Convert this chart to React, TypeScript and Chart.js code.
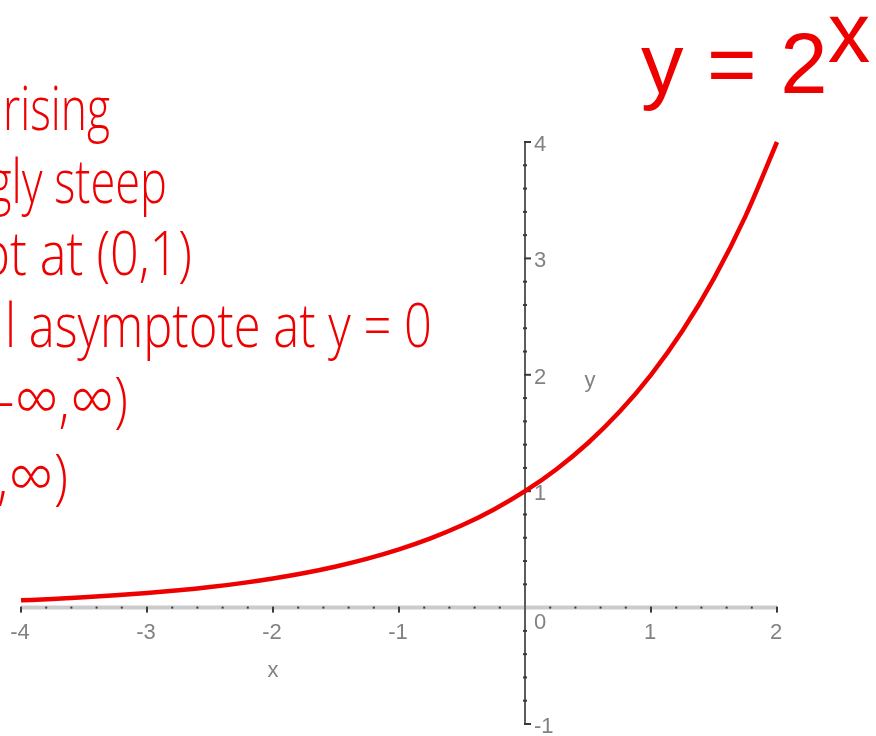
import React, { useEffect, useRef } from 'react';
import { Chart, registerables } from 'chart.js';

Chart.register(...registerables);

// Sample points of the curve y = 2^x
const X_VALUES = [
  -4, -3.75, -3.5, -3.25, -3, -2.75, -2.5, -2.25, -2, -1.75, -1.5, -1.25, -1,
  -0.75, -0.5, -0.25, 0, 0.25, 0.5, 0.75, 1, 1.25, 1.5, 1.75, 2,
];
const Y_VALUES = [
  0.0625, 0.0743, 0.0884, 0.1051, 0.125, 0.1487, 0.1768, 0.2102, 0.25, 0.2973,
  0.3536, 0.4204, 0.5, 0.5946, 0.7071, 0.8409, 1, 1.1892, 1.4142, 1.6818, 2,
  2.3784, 2.8284, 3.3636, 4,
];

// Axis ticks
const X_TICKS = [-4, -3, -2, -1, 0, 1, 2];
const X_TICK_LABELS = ['-4', '-3', '-2', '-1', '0', '1', '2'];
const Y_TICKS = [-1, 1, 2, 3, 4];
const Y_TICK_LABELS = ['-1', '1', '2', '3', '4'];
const MINOR_PER_UNIT = 5;

// Annotation text
const TITLE_BASE = 'y = 2';
const TITLE_EXP = 'x';
const NOTES = ['rising', 'gly steep', 'pt at (0,1)', 'l asymptote at y = 0', '-∞,∞)', ',∞)'];
const NOTE_LAYOUT = [
  { x: 3, y: 130, w: 107 },
  { x: -12, y: 203, w: 179 },
  { x: -20, y: 275, w: 212 },
  { x: 5, y: 347, w: 427 },
  { x: -2, y: 421, w: 130 },
  { x: -3, y: 498, w: 71 },
];

const RED = '#ee0000';
const AXIS_GREY = '#828282';

const crossAxes = {
  id: 'crossAxes',
  beforeDatasetsDraw(chart: any) {
    const { ctx } = chart;
    const xs = chart.scales.x;
    const ys = chart.scales.y;
    const x0 = xs.getPixelForValue(0);
    const y0 = ys.getPixelForValue(0);
    const xMin = xs.getPixelForValue(xs.min);
    const xMax = xs.getPixelForValue(xs.max);
    const yMin = ys.getPixelForValue(ys.min);
    const yMax = ys.getPixelForValue(ys.max);
    ctx.save();

    // horizontal axis: light band with dark tick dots
    ctx.strokeStyle = '#cbcbcb';
    ctx.lineWidth = 4;
    ctx.beginPath();
    ctx.moveTo(xMin, y0);
    ctx.lineTo(xMax, y0);
    ctx.stroke();

    ctx.fillStyle = '#3a3a3a';
    for (let i = xs.min * MINOR_PER_UNIT; i <= xs.max * MINOR_PER_UNIT; i++) {
      const px = xs.getPixelForValue(i / MINOR_PER_UNIT);
      if (i % MINOR_PER_UNIT === 0) {
        ctx.fillRect(px - 1, y0 - 1, 2, 6);
      } else {
        ctx.fillRect(px - 1, y0 - 1, 2, 2);
      }
    }

    // vertical axis
    ctx.strokeStyle = '#5c5c5c';
    ctx.lineWidth = 2;
    ctx.beginPath();
    ctx.moveTo(x0, yMax);
    ctx.lineTo(x0, yMin);
    ctx.stroke();

    ctx.fillStyle = '#3a3a3a';
    for (let i = ys.min * MINOR_PER_UNIT; i <= ys.max * MINOR_PER_UNIT; i++) {
      const py = ys.getPixelForValue(i / MINOR_PER_UNIT);
      if (i % MINOR_PER_UNIT === 0) {
        if (i !== 0) ctx.fillRect(x0 - 1, py - 1, 7, 2);
      } else {
        ctx.fillRect(x0 - 2, py - 1, 4, 2);
      }
    }

    // tick labels
    ctx.fillStyle = AXIS_GREY;
    ctx.font = '22px "Liberation Sans", Arial, sans-serif';
    ctx.textAlign = 'center';
    ctx.textBaseline = 'top';
    X_TICKS.forEach((v, i) => {
      const px = xs.getPixelForValue(v);
      if (v === 0) {
        ctx.fillText(X_TICK_LABELS[i], px + 15, y0 + 4);
      } else {
        ctx.fillText(X_TICK_LABELS[i], px - 1, y0 + 14);
      }
    });
    ctx.textAlign = 'left';
    ctx.textBaseline = 'middle';
    Y_TICKS.forEach((v, i) => {
      const py = ys.getPixelForValue(v);
      ctx.fillText(Y_TICK_LABELS[i], x0 + 9, py + 3);
    });

    // axis titles
    ctx.font = '22px "Liberation Sans", Arial, sans-serif';
    ctx.textAlign = 'center';
    ctx.fillText('x', xs.getPixelForValue(-2), y0 + 63);
    ctx.fillText('y', x0 + 65, ys.getPixelForValue(2) + 6);

    ctx.restore();
  },
};

// Infinity signs get a larger, light glyph than the surrounding lettering
function noteSpans(text: string) {
  return text.split(/(∞)/).map((part, i) =>
    part === '∞' ? (
      <tspan
        key={i}
        style={{ fontFamily: 'Lato, "DejaVu Sans", sans-serif', fontSize: 72, fontWeight: 300 }}
      >
        {part}
      </tspan>
    ) : (
      <tspan key={i}>{part}</tspan>
    )
  );
}

export default function App() {
  const canvasRef = useRef<HTMLCanvasElement>(null);

  useEffect(() => {
    const canvas = canvasRef.current;
    if (!canvas) return;
    const chart = new Chart(canvas, {
      type: 'line',
      data: {
        datasets: [
          {
            data: X_VALUES.map((x, i) => ({ x, y: Y_VALUES[i] })),
            borderColor: RED,
            borderWidth: 4.5,
            pointRadius: 0,
            fill: false,
            cubicInterpolationMode: 'monotone',
            clip: 6,
          },
        ],
      },
      options: {
        animation: false,
        responsive: false,
        devicePixelRatio: 1,
        layout: { padding: { left: 21, right: 99, top: 142, bottom: 12 } },
        scales: {
          x: { type: 'linear', min: -4, max: 2, display: false },
          y: { type: 'linear', min: -1, max: 4, display: false },
        },
        plugins: {
          legend: { display: false },
          tooltip: { enabled: false },
          title: { display: false },
        },
      },
      plugins: [crossAxes],
    });
    return () => chart.destroy();
  }, []);

  return (
    <div
      style={{
        position: 'fixed',
        left: 0,
        top: 0,
        width: 876,
        height: 736,
        background: '#ffffff',
        overflow: 'hidden',
      }}
    >
      <canvas
        ref={canvasRef}
        width={876}
        height={736}
        style={{ position: 'absolute', left: 0, top: 0 }}
      />
      <svg
        width={876}
        height={736}
        style={{ position: 'absolute', left: 0, top: 0, pointerEvents: 'none' }}
      >
        <text
          x={641}
          y={93}
          fill={RED}
          style={{ fontFamily: '"Liberation Sans", Arial, sans-serif', fontSize: 85 }}
        >
          {TITLE_BASE}
          <tspan dy={-31}>{TITLE_EXP}</tspan>
        </text>
        {NOTES.map((t, i) => (
          <text
            key={i}
            x={NOTE_LAYOUT[i].x}
            y={NOTE_LAYOUT[i].y}
            textLength={NOTE_LAYOUT[i].w}
            lengthAdjust="spacingAndGlyphs"
            fill={RED}
            style={{ fontFamily: '"Open Sans", sans-serif', fontSize: 60, fontWeight: 300 }}
          >
            {noteSpans(t)}
          </text>
        ))}
      </svg>
    </div>
  );
}
